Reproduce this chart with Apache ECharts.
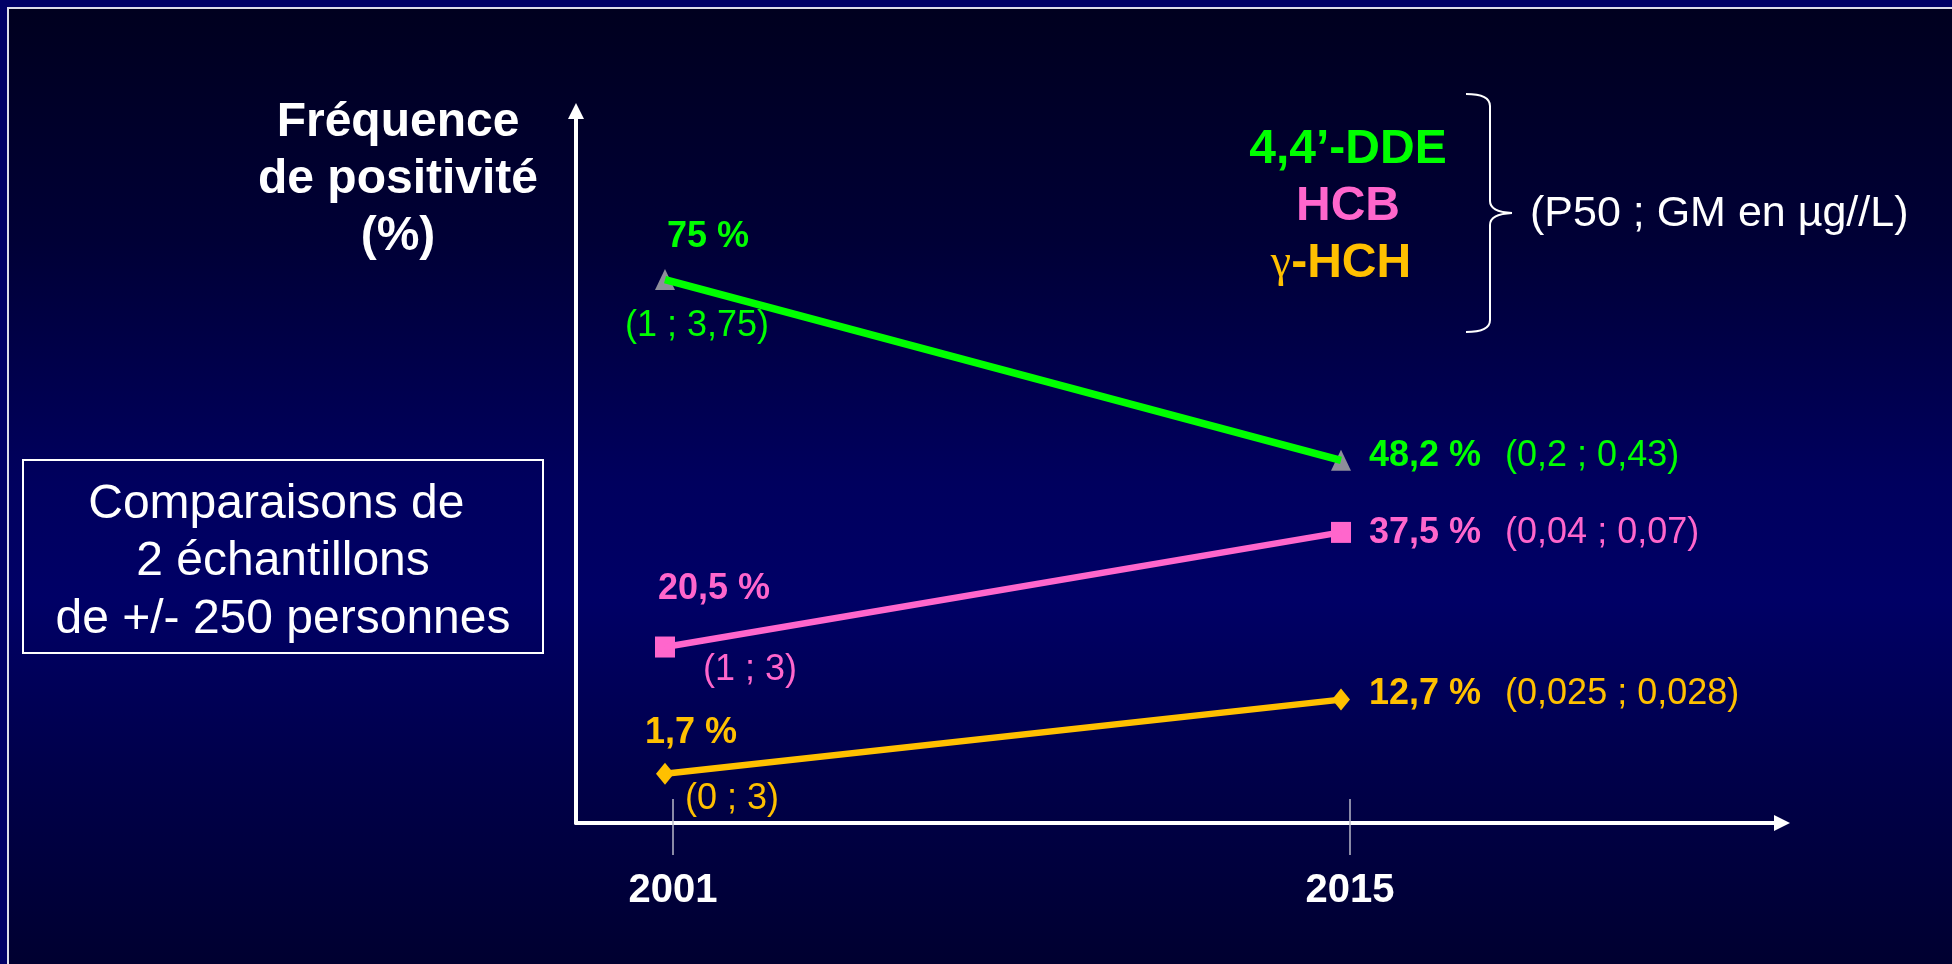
<!DOCTYPE html>
<html>
<head>
<meta charset="utf-8">
<title>Fréquence de positivité</title>
<script src="https://cdn.jsdelivr.net/npm/echarts@6/dist/echarts.min.js"></script>
<style>
  html, body { margin: 0; padding: 0; background: #000066; }
  #chart { width: 1952px; height: 964px; }
</style>
</head>
<body>
<div id="chart"></div>
<script>
// ---- data ----
const years = [2001, 2015];
const tickYears = [2001, 2015];
const tickLabels = ['2001', '2015'];
const substances = ['4,4’-DDE', 'HCB', 'γ-HCH'];
const ddeFreq = [75, 48.2];
const hcbFreq = [20.5, 37.5];
const hchFreq = [1.7, 12.7];
const ddeConc = ['(1 ; 3,75)', '(0,2 ; 0,43)'];
const hcbConc = ['(1 ; 3)', '(0,04 ; 0,07)'];
const hchConc = ['(0 ; 3)', '(0,025 ; 0,028)'];
const yTitle = 'Fréquence\nde positivité\n(%)';
const concNote = '(P50 ; GM en µg//L)';
const boxLines = ['Comparaisons de ', '2 échantillons', 'de +/- 250 personnes'];

// ---- styles ----
const FONT = '"Liberation Sans", Arial, Helvetica, sans-serif';
const styles = [
  { color: '#00ff00', marker: '#8e8e9a', symbol: 'triangle', size: [20, 21], width: 7.5,
    pctOffset: [43, -42], concOffset: [32, 47], endOffset: [28, -4] },
  { color: '#ff66cc', marker: '#ff66cc', symbol: 'rect', size: [20, 21], width: 6.5,
    pctOffset: [49, -58], concOffset: [85, 23], endOffset: [28, 1] },
  { color: '#ffc000', marker: '#ffc000', symbol: 'diamond', size: [18, 22], width: 6.5,
    pctOffset: [26, -41], concOffset: [67, 25], endOffset: [28, -6] }
];

const freqs = [ddeFreq, hcbFreq, hchFreq];
const concs = [ddeConc, hcbConc, hchConc];
const pct = v => String(v).replace('.', ',') + ' %';

const series = [];
freqs.forEach((freq, i) => {
  const st = styles[i];
  const pts = years.map((yr, k) => [yr, freq[k]]);
  // connecting line
  series.push({
    type: 'line', name: substances[i], xAxisIndex: 2, data: pts,
    symbol: 'none', lineStyle: { color: st.color, width: st.width },
    z: 3, silent: true, animation: false
  });
  // markers with the percentage labels
  series.push({
    type: 'scatter', xAxisIndex: 2, symbol: st.symbol, symbolSize: st.size,
    itemStyle: { color: st.marker, opacity: 1 }, z: 2, silent: true, animation: false,
    data: pts.map((p, k) => ({
      value: p,
      label: k === 0 ? {
        show: true, position: 'inside', offset: st.pctOffset,
        formatter: () => pct(freq[k]),
        color: st.color, fontSize: 36, fontWeight: 'bold', fontFamily: FONT
      } : {
        show: true, position: 'inside', align: 'left', offset: st.endOffset,
        formatter: () => '{p|' + pct(freq[k]) + '}{c|' + concs[i][k] + '}',
        rich: {
          p: { color: st.color, fontSize: 36, fontWeight: 'bold', fontFamily: FONT },
          c: { color: st.color, fontSize: 36, fontFamily: FONT, padding: [0, 0, 0, 24] }
        }
      }
    }))
  });
  // concentration note under the first point
  series.push({
    type: 'scatter', xAxisIndex: 2, symbolSize: 1,
    itemStyle: { color: 'rgba(0,0,0,0)', opacity: 1 }, z: 4, silent: true, animation: false,
    data: [{
      value: pts[0],
      label: {
        show: true, position: 'inside', offset: st.concOffset,
        formatter: () => concs[i][0],
        color: st.color, fontSize: 36, fontFamily: FONT
      }
    }]
  });
});

const tickAxisBase = {
  type: 'value', gridIndex: 0, position: 'bottom', offset: 0,
  min: 1998.994, max: 2023.934, splitLine: { show: false }
};

// brace "}" pieces
const braceStyle = { fill: 'none', stroke: '#ffffff', lineWidth: 2 };
const brace = [
  { type: 'bezierCurve', shape: { x1: 1466, y1: 94, cpx1: 1490, cpy1: 94, x2: 1490, y2: 106 } },
  { type: 'line', shape: { x1: 1490, y1: 106, x2: 1490, y2: 201 } },
  { type: 'bezierCurve', shape: { x1: 1490, y1: 201, cpx1: 1490, cpy1: 212, x2: 1512, y2: 213 } },
  { type: 'bezierCurve', shape: { x1: 1512, y1: 213, cpx1: 1490, cpy1: 214, x2: 1490, y2: 225 } },
  { type: 'line', shape: { x1: 1490, y1: 225, x2: 1490, y2: 320 } },
  { type: 'bezierCurve', shape: { x1: 1490, y1: 320, cpx1: 1490, cpy1: 332, x2: 1466, y2: 332 } }
].map(el => Object.assign(el, { silent: true, style: braceStyle }));

const option = {
  backgroundColor: '#000066',
  animation: false,
  grid: { left: 576, right: 170, top: 111, bottom: 141 },
  xAxis: [
    Object.assign({}, tickAxisBase, {
      axisLine: {
        show: true, onZero: false, symbol: ['none', 'triangle'], symbolSize: [16, 16],
        lineStyle: { color: '#ffffff', width: 4 }
      },
      axisTick: { show: true, inside: false, length: 32, customValues: tickYears,
        lineStyle: { color: '#b8b8c8', width: 1.5 } },
      axisLabel: {
        show: true, customValues: tickYears, margin: 48,
        formatter: v => tickLabels[tickYears.indexOf(v)] || '',
        color: '#ffffff', fontSize: 40, fontWeight: 'bold', fontFamily: FONT
      }
    }),
    Object.assign({}, tickAxisBase, {
      axisLine: { show: false, onZero: false },
      axisTick: { show: true, inside: true, length: 24, customValues: tickYears,
        lineStyle: { color: '#b8b8c8', width: 1.5 } },
      axisLabel: { show: false }
    }),
    {
      type: 'value', gridIndex: 0, position: 'bottom', offset: 0, show: false,
      min: 1999.157, max: 2024.133,
      axisLine: { onZero: false }, splitLine: { show: false }
    }
  ],
  yAxis: {
    type: 'value', min: -5.6, max: 100,
    axisLine: {
      show: true, onZero: false, symbol: ['none', 'triangle'], symbolSize: [16, 16],
      lineStyle: { color: '#ffffff', width: 4 }
    },
    axisTick: { show: false }, axisLabel: { show: false }, splitLine: { show: false }
  },
  series: series,
  graphic: [
    // framed slide background
    {
      type: 'rect', z: -10, silent: true,
      shape: { x: 8, y: 8, width: 2000, height: 1000 },
      style: {
        fill: new echarts.graphic.LinearGradient(0, 0, 0, 964, [
          { offset: 0, color: '#00001e' },
          { offset: 0.25, color: '#000036' },
          { offset: 0.5, color: '#00005e' },
          { offset: 0.62, color: '#000066' },
          { offset: 0.8, color: '#00004a' },
          { offset: 1, color: '#000030' }
        ], true),
        stroke: '#dcdcea', lineWidth: 2
      }
    },
    // axis title
    {
      type: 'text', silent: true, x: 398, y: 180,
      style: {
        text: yTitle, fill: '#ffffff', fontSize: 48, fontWeight: 'bold', fontFamily: FONT,
        align: 'center', verticalAlign: 'middle', lineHeight: 57
      }
    },
    // substance key
    {
      type: 'text', silent: true, x: 1348, y: 150,
      style: { text: substances[0], fill: styles[0].color, fontSize: 48, fontWeight: 'bold',
        fontFamily: FONT, align: 'center', verticalAlign: 'middle' }
    },
    {
      type: 'text', silent: true, x: 1348, y: 207,
      style: { text: substances[1], fill: styles[1].color, fontSize: 48, fontWeight: 'bold',
        fontFamily: FONT, align: 'center', verticalAlign: 'middle' }
    },
    {
      type: 'text', silent: true, x: 1341, y: 264,
      style: {
        text: '{g|' + substances[2].slice(0, 1) + '}{b|' + substances[2].slice(1) + '}',
        align: 'center', verticalAlign: 'middle',
        rich: {
          g: { fill: styles[2].color, fontSize: 46, fontFamily: '"Liberation Serif", "DejaVu Serif", serif' },
          b: { fill: styles[2].color, fontSize: 48, fontWeight: 'bold', fontFamily: FONT }
        }
      }
    },
    ...brace,
    {
      type: 'text', silent: true, x: 1530, y: 214,
      style: { text: concNote, fill: '#ffffff', fontSize: 43, fontFamily: FONT,
        align: 'left', verticalAlign: 'middle' }
    },
    // sample note box
    {
      type: 'rect', silent: true,
      shape: { x: 23, y: 460, width: 520, height: 193 },
      style: { fill: 'none', stroke: '#ffffff', lineWidth: 2 }
    },
    {
      type: 'text', silent: true, x: 283, y: 562,
      style: { text: boxLines.join('\n'), fill: '#ffffff', fontSize: 48, fontFamily: FONT,
        align: 'center', verticalAlign: 'middle', lineHeight: 57.5 }
    }
  ]
};

const chart = echarts.init(document.getElementById('chart'), null, { renderer: 'canvas' });
chart.setOption(option);
</script>
</body>
</html>
